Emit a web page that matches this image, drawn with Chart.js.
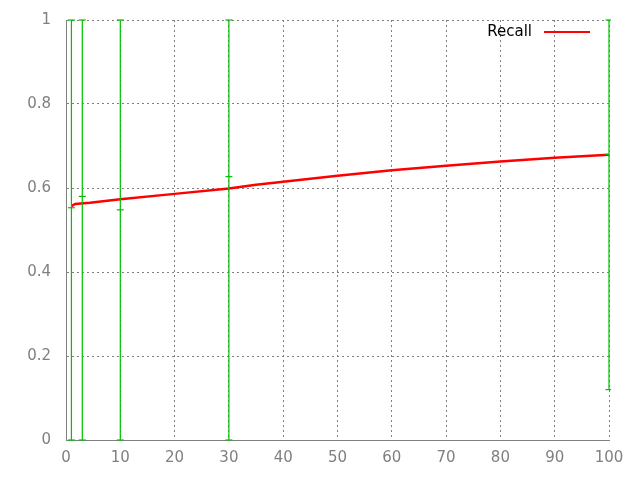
<!DOCTYPE html>
<html>
<head>
<meta charset="utf-8">
<script src="https://cdn.jsdelivr.net/npm/chart.js@4"></script>
<style>
  html, body { margin: 0; padding: 0; background: #fff; }
  #wrap { width: 640px; height: 480px; }
</style>
</head>
<body>
<div id="wrap"><canvas id="chart"></canvas></div>
<script>
// Recall curve
const recallX = [1, 1.7, 4.4, 10, 20, 30, 35, 40, 50, 60, 70, 80, 90, 100];
const recallY = [0.557, 0.562, 0.565, 0.573, 0.586, 0.599, 0.608, 0.615, 0.629, 0.642, 0.653, 0.663, 0.672, 0.679];

// green error bars
const errX = [1, 3, 10, 30, 100];
const errMid = [0.553, 0.58, 0.548, 0.627, 0.68];
const errLow = [0, 0, 0, 0, 0.12];
const errHigh = [1, 1, 1, 1, 1];

const xTicks = [0, 10, 20, 30, 40, 50, 60, 70, 80, 90, 100];
const yTicks = [0, 0.2, 0.4, 0.6, 0.8, 1];

const GRAY = '#808080';
const GREEN = '#00c000';

// error bars as one line dataset, split with null gaps
const barPoints = [];
errX.forEach((x, i) => {
  barPoints.push({ x: x, y: errLow[i] });
  barPoints.push({ x: x, y: errHigh[i] });
  barPoints.push({ x: x, y: null });
});
const midPoints = errX.map((x, i) => ({ x: x, y: errMid[i] }));
const recallPoints = recallX.map((x, i) => ({ x: x, y: recallY[i] }));

const legendPlugin = {
  id: 'gpLegend',
  afterDraw(chart) {
    const ctx = chart.ctx;
    ctx.save();
    ctx.font = '15px "DejaVu Sans"';
    ctx.fillStyle = '#000';
    ctx.textAlign = 'right';
    ctx.textBaseline = 'middle';
    ctx.fillText('Recall', 532, 32);
    ctx.strokeStyle = '#ff0000';
    ctx.lineWidth = 2;
    ctx.beginPath();
    ctx.moveTo(544, 32);
    ctx.lineTo(590, 32);
    ctx.stroke();
    ctx.restore();
  }
};

new Chart(document.getElementById('chart'), {
  type: 'line',
  data: {
    datasets: [
      {
        label: 'bars',
        data: barPoints,
        borderColor: GREEN,
        borderWidth: 1.2,
        spanGaps: false,
        pointStyle: 'line',
        pointRadius: 3.5,
        pointBorderColor: GREEN,
        pointBorderWidth: 1.2,
        clip: 2
      },
      {
        label: 'mid',
        data: midPoints,
        showLine: false,
        pointStyle: 'line',
        pointRadius: 3.5,
        pointBorderColor: GREEN,
        pointBorderWidth: 1.2
      },
      {
        label: 'Recall',
        data: recallPoints,
        borderColor: '#ff0000',
        borderWidth: 2.5,
        pointRadius: 0,
        tension: 0
      }
    ]
  },
  options: {
    responsive: true,
    maintainAspectRatio: false,
    animation: false,
    layout: { padding: { top: 20, right: 31 } },
    plugins: {
      legend: { display: false },
      tooltip: { enabled: false }
    },
    scales: {
      x: {
        type: 'linear',
        min: 0,
        max: 100,
        afterBuildTicks: (axis) => { axis.ticks = xTicks.map(v => ({ value: v })); },
        afterFit: (axis) => { axis.height = 40; },
        ticks: {
          color: GRAY,
          font: { family: 'DejaVu Sans', size: 15 },
          padding: 9,
          maxRotation: 0
        },
        grid: {
          color: GRAY,
          lineWidth: 1,
          drawTicks: false
        },
        border: { display: true, color: GRAY, width: 1, dash: [2, 3] }
      },
      y: {
        min: 0,
        max: 1,
        afterBuildTicks: (axis) => { axis.ticks = yTicks.map(v => ({ value: v })); },
        afterFit: (axis) => {
          axis.width = 66;
          axis.paddingTop = 0;
          axis.paddingBottom = 0;
        },
        ticks: {
          color: GRAY,
          font: { family: 'DejaVu Sans', size: 15 },
          padding: 15,
          callback: v => String(v)
        },
        grid: {
          color: GRAY,
          lineWidth: 1,
          drawTicks: false
        },
        border: { display: true, color: GRAY, width: 1, dash: [2, 3] }
      }
    }
  },
  plugins: [legendPlugin]
});
</script>
</body>
</html>
